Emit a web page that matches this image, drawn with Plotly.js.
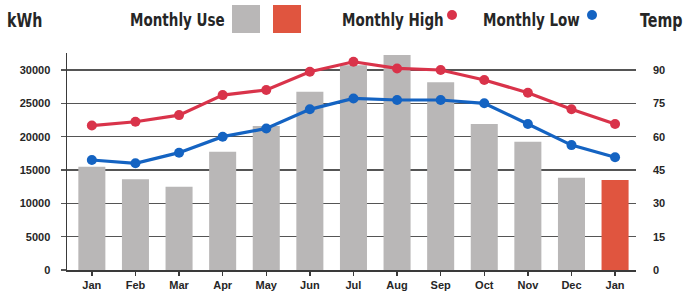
<!DOCTYPE html>
<html>
<head>
<meta charset="utf-8">
<script src="https://cdn.plot.ly/plotly-3.0.1.min.js"></script>
<style>
html,body{margin:0;padding:0;background:#fff;}
#chart{width:684px;height:292px;}
#chart text.annotation-text{transform-box:fill-box;transform-origin:0% 50%;transform:scaleX(0.75);}
</style>
</head>
<body>
<div id="chart"></div>
<script>
// ---- data ----
const monthLabels = ["Jan","Feb","Mar","Apr","May","Jun","Jul","Aug","Sep","Oct","Nov","Dec","Jan"];
const monthlyUse  = [15500,13600,12500,17750,21600,26750,30700,32250,28150,21900,19250,13850,13500];
const monthlyHigh = [65,66.7,69.7,78.7,81,89.2,93.7,90.7,90,85.5,79.8,72.3,65.7];
const monthlyLow  = [49.5,48,52.8,60,63.7,72.3,77.2,76.5,76.5,75,65.7,56.2,50.7];
const kwhTicks  = [0,5000,10000,15000,20000,25000,30000];
const tempTicks = [0,15,30,45,60,75,90];

// ---- style ----
const W = 684, H = 292;
const M = {l:67, r:48, t:53, b:22};
const grayBar = '#b9b7b7', redBar = '#e0553f';
const redLine = '#d9334a', blueLine = '#1463c2';
const txt = '#262626';
const heavy = 'DejaVu Sans, sans-serif';
const tickFont = {family:'Liberation Sans, Arial, sans-serif', size:11, color:txt, weight:'bold'};

const idx = monthLabels.map((_, i) => i);
const lastIdx = monthLabels.length - 1;
const barColors = idx.map(i => i === lastIdx ? redBar : grayBar);

// pixel -> paper helpers for the hand-made legend
const pw = W - M.l - M.r, ph = H - M.t - M.b;
const px = x => (x - M.l) / pw;
const py = y => (H - M.b - y) / ph;

const traces = [
  {type:'bar', x:idx, y:monthlyUse, width:0.62, marker:{color:barColors}, yaxis:'y', hoverinfo:'y'},
  {type:'scatter', mode:'lines+markers', x:idx, y:monthlyHigh, yaxis:'y2',
   line:{color:redLine, width:3.2}, marker:{color:redLine, size:10}},
  {type:'scatter', mode:'lines+markers', x:idx, y:monthlyLow, yaxis:'y2',
   line:{color:blueLine, width:3.2}, marker:{color:blueLine, size:10}}
];

function label(text, x, y, size){
  return {text:'<b>'+text+'</b>', xref:'paper', yref:'paper', x:px(x), y:py(y),
          xanchor:'left', yanchor:'middle', showarrow:false,
          font:{family:heavy, size:size, color:txt}};
}

const layout = {
  width:W, height:H, margin:M, showlegend:false,
  paper_bgcolor:'#fff', plot_bgcolor:'#fff',
  bargap:0.38,
  xaxis:{range:[-0.57,12.48], tickvals:idx, ticktext:monthLabels, showgrid:false,
         showline:true, linecolor:'#3a3a3a', linewidth:2, ticks:'outside', ticklen:4,
         tickcolor:'#3a3a3a', tickwidth:1.5, tickfont:tickFont, zeroline:false, fixedrange:true},
  yaxis:{range:[0,32550], tickvals:kwhTicks, ticktext:kwhTicks.map(String), showgrid:true, gridcolor:'#555', gridwidth:1.6,
         showline:true, linecolor:'#3a3a3a', linewidth:1.5, ticks:'outside', ticklen:5,
         tickcolor:'#555', tickwidth:1.6, tickfont:tickFont, zeroline:false, ticklabelstandoff:8},
  yaxis2:{overlaying:'y', side:'right', range:[0,97.65], tickvals:tempTicks, ticktext:tempTicks.map(String), showgrid:false,
          showline:false, ticks:'inside', ticklen:7, tickcolor:'#555', tickwidth:1.5,
          tickfont:tickFont, zeroline:false, ticklabelstandoff:16},
  annotations:[
    label('kWh', 5, 20, 19),
    label('Monthly Use', 128, 19, 18),
    label('Monthly High', 340, 19, 18),
    label('Monthly Low', 481, 19, 18),
    label('Temp', 638, 20, 19)
  ],
  shapes:[
    {type:'rect', xref:'paper', yref:'paper', x0:px(232), x1:px(260), y0:py(33), y1:py(5), fillcolor:grayBar, line:{width:0}},
    {type:'rect', xref:'paper', yref:'paper', x0:px(273), x1:px(301), y0:py(33), y1:py(5), fillcolor:redBar, line:{width:0}},
    {type:'circle', xref:'paper', yref:'paper', x0:px(447), x1:px(457), y0:py(20), y1:py(10), fillcolor:redLine, line:{width:0}},
    {type:'circle', xref:'paper', yref:'paper', x0:px(587), x1:px(597), y0:py(20), y1:py(10), fillcolor:blueLine, line:{width:0}}
  ]
};

Plotly.newPlot('chart', traces, layout, {displayModeBar:false, staticPlot:true});
</script>
</body>
</html>
